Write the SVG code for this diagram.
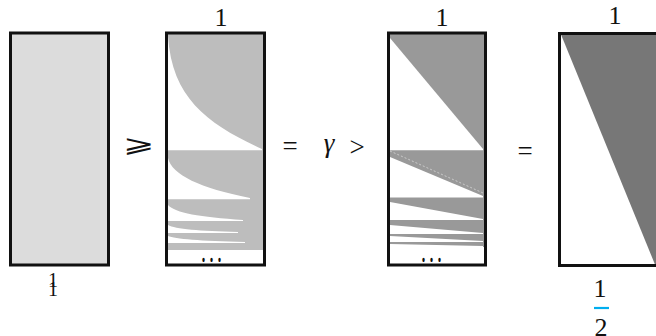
<svg xmlns="http://www.w3.org/2000/svg" width="656" height="336" viewBox="0 0 656 336">
<style>
.t{font-family:"Liberation Serif","Times New Roman",serif;font-size:26px;fill:#111;text-anchor:middle}
.op{font-size:27px}
.frame{fill:none;stroke:#111;stroke-width:3}
.w{fill:#fff}
</style>
<rect width="656" height="336" fill="#fff"/>
<g id="panel1">
<rect x="10.5" y="33" width="98" height="232" fill="#dcdcdc"/>
<rect class="frame" x="10.5" y="33" width="98" height="232"/>
<text class="t" x="53" y="287" style="font-size:20px">1</text>
<text class="t" x="53" y="296" style="font-size:20px">1</text>
</g>
<g id="rel1">
<text transform="translate(139,152) scale(1.35,0.85)" style="font-family:'DejaVu Sans',sans-serif;font-size:28px;text-anchor:middle;fill:#111">⩾</text>
</g>
<g id="panel2">
<rect x="168" y="34" width="95" height="216" fill="#bdbdbd"/>
<path class="w" d="M168,36 C172,100 210,125 262,149 L262,150.2 L168,150.2 Z"/>
<path class="w" d="M168,158 C172,175 200,188 250,198 L250,199.2 L168,199.2 Z"/>
<path class="w" d="M168,205 C175,213 200,217 243,220 L243,221 L168,221 Z"/>
<path class="w" d="M168,225 C175,229 200,231 238,232 L238,233 L168,233 Z"/>
<path class="w" d="M168,236 C175,239 200,241 245,242 L245,243 L168,243 Z"/>
<rect class="frame" x="166.5" y="33" width="98" height="232"/>
<text class="t" x="221" y="26">1</text>
<text class="t" transform="translate(213,262) scale(1,1.8)" style="font-size:20px;letter-spacing:3px">...</text>
</g>
<g id="rel2">
<text class="t op" x="290" y="155">=</text>
<text class="t op" x="329" y="152" style="font-style:italic">γ</text>
<text class="t op" x="357" y="156">&gt;</text>
</g>
<g id="panel3">
<rect x="390" y="34" width="94" height="213" fill="#999"/>
<polygon class="w" points="390,38 483,149 483,150.2 390,150.2"/>
<polygon class="w" points="390,157 483,196 483,197.5 390,197.5"/>
<polygon class="w" points="390,202 483,219 483,220 390,220"/>
<polygon class="w" points="390,225 483,233 483,234 390,234"/>
<polygon class="w" points="390,236 483,241 483,242 390,242"/>
<polygon class="w" points="390,244 483,246 483,247 390,247"/>
<line x1="390" y1="151" x2="483" y2="193" stroke="#fff" stroke-opacity="0.6" stroke-width="0.8" stroke-dasharray="2 2"/>
<rect class="frame" x="388.5" y="33" width="97" height="232"/>
<text class="t" x="442" y="26">1</text>
<text class="t" transform="translate(433,262) scale(1,1.8)" style="font-size:20px;letter-spacing:3px">...</text>
</g>
<g id="rel3">
<text class="t op" x="525" y="160">=</text>
</g>
<g id="panel4">
<polygon points="561,34.5 656,267 660,267 660,34.5" fill="#777"/>
<rect class="frame" x="559.5" y="33.5" width="100" height="232"/>
<text class="t" x="615" y="24">1</text>
<text class="t" x="600" y="297">1</text>
<line x1="594" y1="308" x2="609" y2="308" stroke="#00aeef" stroke-width="2.2"/>
<text class="t" x="601" y="336">2</text>
</g>
</svg>
